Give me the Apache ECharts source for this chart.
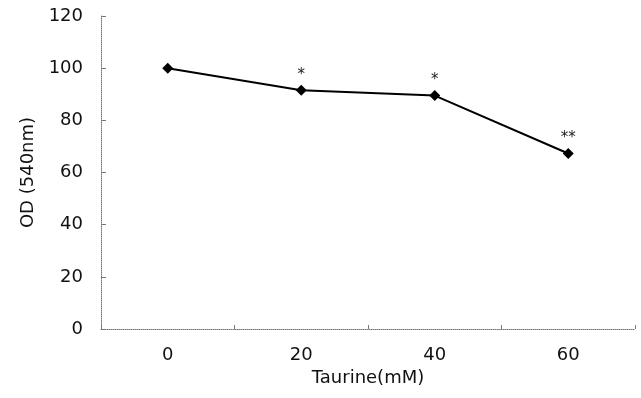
<!DOCTYPE html>
<html><head><meta charset="utf-8">
<script src="https://cdn.jsdelivr.net/npm/echarts@6/dist/echarts.min.js"></script>
<style>html,body{margin:0;padding:0;background:#fff}#c{width:641px;height:398px}</style>
</head><body><div id="c"></div>
<script>
const categories = ['0', '20', '40', '60'];
const odValues = [100, 91.5, 89.5, 67.3];
const significance = ['', '*', '*', '**'];
const yTicks = [0, 20, 40, 60, 80, 100, 120];

const chart = echarts.init(document.getElementById('c'), null, {renderer: 'canvas'});
const font = 'DejaVu Sans, sans-serif';
chart.setOption({
  animation: false,
  backgroundColor: '#fff',
  grid: {left: 101, right: 6, top: 16, bottom: 69},
  xAxis: {
    type: 'category',
    data: categories,
    boundaryGap: true,
    name: 'Taurine(mM)',
    nameLocation: 'middle',
    nameGap: 40,
    nameTextStyle: {color: '#111', fontSize: 18, fontFamily: font},
    axisLine: {lineStyle: {color: '#777', width: 1, type: 'dotted'}},
    axisTick: {show: true, inside: true, length: 4, alignWithLabel: false, lineStyle: {color: '#777'}},
    axisLabel: {color: '#111', fontSize: 18, fontFamily: font, margin: 17}
  },
  yAxis: {
    type: 'value',
    min: yTicks[0],
    max: yTicks[yTicks.length - 1],
    interval: 20,
    name: 'OD (540nm)',
    nameLocation: 'middle',
    nameGap: 64,
    nameRotate: 90,
    nameTextStyle: {color: '#111', fontSize: 18, fontFamily: font},
    axisLine: {show: true, lineStyle: {color: '#777', width: 1, type: 'dotted'}},
    axisTick: {show: true, inside: true, length: 5, lineStyle: {color: '#777'}},
    splitLine: {show: false},
    axisLabel: {color: '#111', fontSize: 18, fontFamily: font, margin: 18}
  },
  series: [{
    type: 'line',
    data: odValues,
    symbol: 'diamond',
    symbolSize: 11,
    itemStyle: {color: '#000'},
    lineStyle: {color: '#000', width: 2},
    label: {
      show: true,
      position: 'top',
      distance: 2,
      color: '#222',
      fontSize: 15,
      fontFamily: font,
      formatter: p => significance[p.dataIndex]
    }
  }]
});
</script></body></html>
